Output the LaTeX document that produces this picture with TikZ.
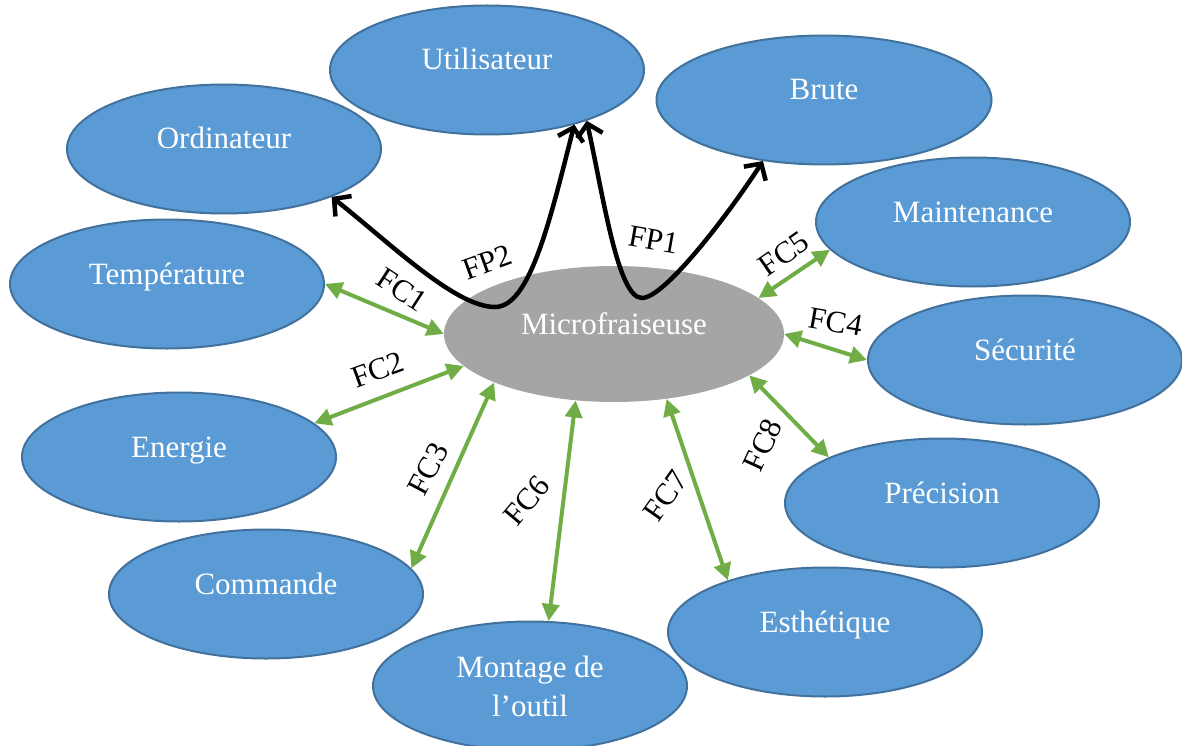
\documentclass[tikz,border=0pt]{standalone}
\usepackage{fontspec}
\setmainfont{Liberation Serif}
\usetikzlibrary{shapes.geometric, arrows.meta}
\definecolor{boxblue}{RGB}{91,155,213}
\definecolor{edgeblue}{RGB}{65,113,156}
\definecolor{boxgray}{RGB}{165,165,165}
\definecolor{linkgreen}{RGB}{112,173,71}
\tikzset{
  blob/.style={ellipse, draw=edgeblue, line width=2pt, fill=boxblue, text=white,
    minimum width=#1, minimum height=129pt, inner sep=0pt,
    font=\fontsize{31}{39}\selectfont, text height=22pt, text depth=22pt},
  blob/.default=314pt,
  core/.style={ellipse, fill=boxgray, text=white, minimum width=340pt,
    minimum height=136pt, inner sep=0pt, font=\fontsize{31}{39}\selectfont,
    text height=22pt, text depth=22pt},
  fc/.style={draw=linkgreen, line width=4pt,
    {Triangle[length=17pt, width=17pt]}-{Triangle[length=17pt, width=17pt]}},
  fp/.style={draw=black, line width=4.5pt,
    {Straight Barb[length=12pt, width=26pt]}-{Straight Barb[length=12pt, width=26pt]}},
  lbl/.style={font=\fontsize{31}{36}\selectfont, inner sep=1pt},
}

\begin{document}
\begin{tikzpicture}[x=1pt, y=-1pt]
\useasboundingbox (0,0) rectangle (1182,746);

% ── Milieu extérieur ────────────────────────────────────────
\node[blob] (util) at (487,70) {Utilisateur};
\node[blob=335pt] (brute) at (824,100) {Brute};
\node[blob] (ordi) at (224,149) {Ordinateur};
\node[blob] (maint) at (973,222) {Maintenance};
\node[blob] (temp) at (167,284) {Température};
\node[blob] (secu) at (1025,360) {Sécurité};
\node[blob] (ener) at (179,457) {Energie};
\node[blob] (prec) at (942,503) {Précision};
\node[blob] (comm) at (266,594) {Commande};
\node[blob] (esth) at (825,632) {Esthétique};
\node[blob, align=center, text height=, text depth=] (mont) at (530,686) {Montage de\\l’outil};

% ── Produit ─────────────────────────────────────────────────
\node[core] (micro) at (614,334) {Microfraiseuse};

% ── Fonctions principales ───────────────────────────────────
\coordinate (fp2low) at (495,307);
\coordinate (fp1low) at (642,298);
\draw[fp] (ordi.-24) .. controls (390,243) and (455,307) .. (fp2low)
  .. controls (530,307) and (550,220) .. (util.-32);
\draw[fp] (util.-27) .. controls (604,200) and (618,298) .. (fp1low)
  .. controls (665,298) and (730,212) .. (brute.225);
\node[lbl, rotate=20] (p2) at (487,262) {FP2};
\node[lbl, rotate=-10] (p1) at (654,240) {FP1};

% ── Fonctions contraintes ───────────────────────────────────
\draw[fc] (temp.0) -- (micro.180);
\draw[fc] (ener.14) -- (micro.192);
\draw[fc] (comm.10) -- (micro.202);
\draw[fc] (micro.0) -- (secu.180);
\draw[fc] (micro.14) -- (maint.191);
\draw[fc] (mont.74) -- (micro.240);
\draw[fc] (micro.-51) -- (esth.152);
\draw[fc] (micro.-17.5) -- (prec.158);

\node[lbl, rotate=-33] (l1) at (402,290) {FC1};
\node[lbl, rotate=20] (l2) at (378,370) {FC2};
\node[lbl, rotate=62] (l3) at (428,469) {FC3};
\node[lbl, rotate=-10] (l4) at (836,322) {FC4};
\node[lbl, rotate=35] (l5) at (784,254) {FC5};
\node[lbl, rotate=50] (l6) at (527,501) {FC6};
\node[lbl, rotate=55] (l7) at (666,496) {FC7};
\node[lbl, rotate=65] (l8) at (763,445) {FC8};

\end{tikzpicture}
\end{document}
